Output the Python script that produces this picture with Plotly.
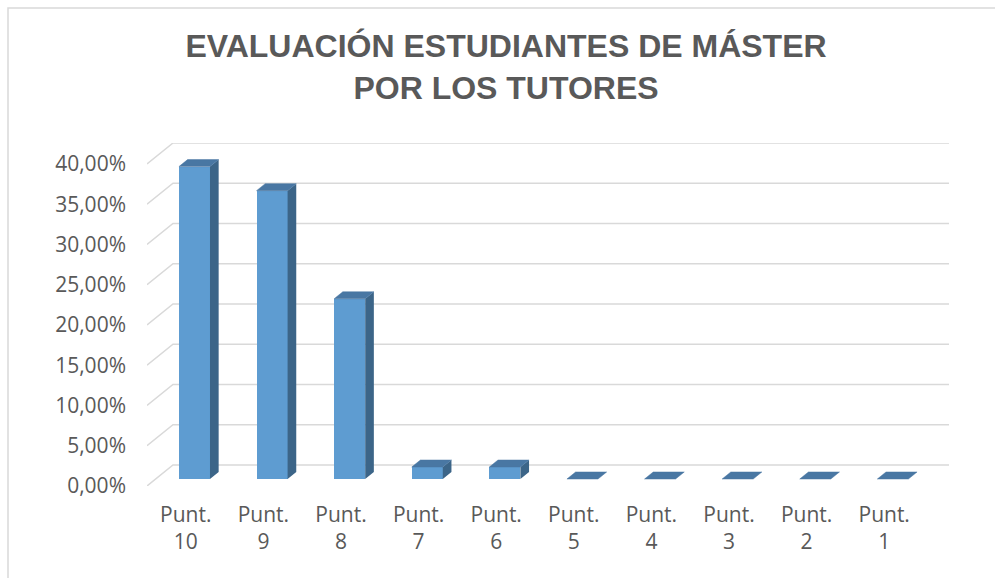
import plotly.graph_objects as go

# ---- data ----
categories = ["Punt.<br>10", "Punt.<br>9", "Punt.<br>8", "Punt.<br>7", "Punt.<br>6",
              "Punt.<br>5", "Punt.<br>4", "Punt.<br>3", "Punt.<br>2", "Punt.<br>1"]
values = [38.81, 35.82, 22.39, 1.49, 1.49, 0.0, 0.0, 0.0, 0.0, 0.0]  # percent
y_ticks = [0, 5, 10, 15, 20, 25, 30, 35, 40]
y_tick_labels = ["0,00%", "5,00%", "10,00%", "15,00%", "20,00%",
                 "25,00%", "30,00%", "35,00%", "40,00%"]
title_text = "EVALUACIÓN ESTUDIANTES DE MÁSTER<br>POR LOS TUTORES"

# ---- style / geometry ----
W, H = 995, 578
ML, MR, MT, MB = 147, 46, 143, 92
DEPTH_X = 0.335   # depth offset in category units
DEPTH_Y = 2.61    # depth offset in percent units
BAR_W = 0.40
FRONT = "#5E9CD1"
SIDE = "#3C6588"
TOP = "#4977A3"
GRID = "#D9D9D9"
TXT = "#595959"

n = len(categories)
xpos = list(range(n))
dx = DEPTH_X / 3
dy = DEPTH_Y / 3

fig = go.Figure()

# back wall gridlines with left-wall diagonals (below the bars)
for v in y_ticks:
    fig.add_shape(type="path", xref="x", yref="y", layer="below",
                  path=f"M {-0.5} {v} L {-0.5 + DEPTH_X} {v + DEPTH_Y} L {n - 0.5 + DEPTH_X} {v + DEPTH_Y}",
                  line=dict(color=GRID, width=1.5))

# front faces
fig.add_trace(go.Bar(x=[p + dx for p in xpos], y=values, base=dy, width=BAR_W,
                     marker=dict(color=FRONT, line=dict(width=0)),
                     hoverinfo="skip", showlegend=False))

# side faces and top faces
sx, sy, tx, ty = [], [], [], []
for p, v in zip(xpos, values):
    x0 = p + dx - BAR_W / 2
    x1 = x0 + BAR_W
    b = dy
    t = v + dy
    if v > 0:
        sx += [x1, x1 + dx, x1 + dx, x1, x1, None]
        sy += [b, b + dy, t + dy, t, b, None]
    tx += [x0, x1, x1 + dx, x0 + dx, x0, None]
    ty += [t, t, t + dy, t + dy, t, None]
fig.add_trace(go.Scatter(x=sx, y=sy, mode="lines", fill="toself", fillcolor=SIDE,
                         line=dict(width=0, color=SIDE), hoverinfo="skip", showlegend=False))
fig.add_trace(go.Scatter(x=tx, y=ty, mode="lines", fill="toself", fillcolor=TOP,
                         line=dict(width=0.5, color=TOP), hoverinfo="skip", showlegend=False))

pw = W - ML - MR
ph = H - MT - MB
# chart outer border (cropped at right/bottom)
fig.add_shape(type="rect", xref="paper", yref="paper",
              x0=(8 - ML) / pw, x1=(W + 10 - ML) / pw,
              y0=-(H + 10 - MT - ph) / ph, y1=(H - 8 - MB) / ph,
              line=dict(color=GRID, width=1.5), fillcolor="rgba(0,0,0,0)")

fig.update_layout(
    width=W, height=H,
    margin=dict(l=ML, r=MR, t=MT, b=MB),
    paper_bgcolor="white", plot_bgcolor="white",
    title=dict(text=title_text, x=506 / W, xanchor="center",
               y=1 - 57 / H, yanchor="middle", yref="container",
               font=dict(family="Liberation Sans, Arial, sans-serif", size=32,
                         color=TXT, weight=700)),
    xaxis=dict(range=[-0.5, n - 0.5 + DEPTH_X], tickvals=xpos, ticktext=categories,
               showgrid=False, zeroline=False, showline=False, ticks="",
               tickfont=dict(family="Open Sans, sans-serif", size=21, color=TXT),
               ticklabelstandoff=14, fixedrange=True),
    yaxis=dict(range=[0, 40 + DEPTH_Y], tickvals=y_ticks, ticktext=y_tick_labels,
               showgrid=False, zeroline=False, showline=False, ticks="",
               tickfont=dict(family="Open Sans, sans-serif", size=21, color=TXT),
               ticklabelstandoff=20, fixedrange=True),
    bargap=0,
)

fig.write_html("out.html", config={"displayModeBar": False},
               post_script="document.body.style.margin='0';")
